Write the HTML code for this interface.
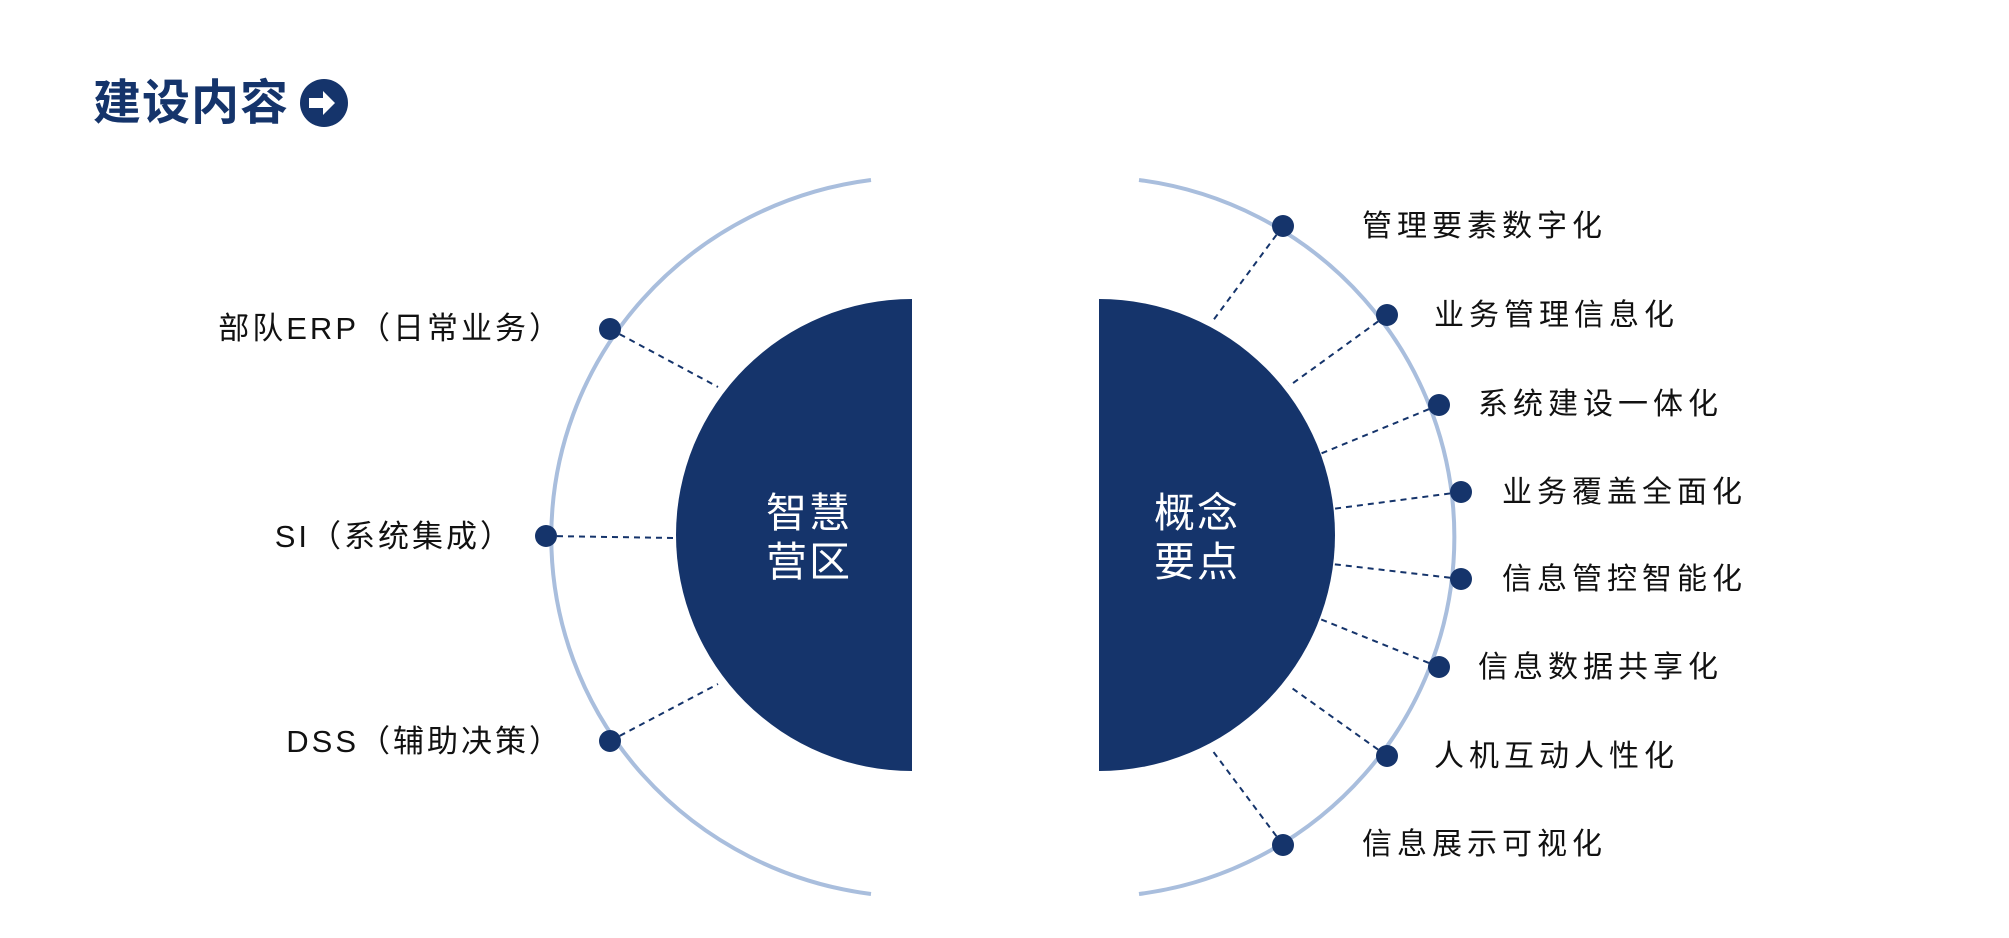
<!DOCTYPE html>
<html><head><meta charset="utf-8"><style>
html,body{margin:0;padding:0;background:#fff;}
svg{display:block;}
text{font-family:"Liberation Sans","Noto Sans CJK SC",sans-serif;}
</style></head><body>
<svg width="2009" height="938" viewBox="0 0 2009 938" xmlns="http://www.w3.org/2000/svg">
<text x="93" y="119" font-size="48" font-weight="bold" fill="#15346b" letter-spacing="1">建设内容</text>
<circle cx="324" cy="103" r="24" fill="#15346b"/>
<path d="M309 98 h14 v-7 l12 12 l-12 12 v-7 h-14 z" fill="#fff"/>

<!-- left -->
<path d="M871 180 A367 360 0 0 0 871 894" fill="none" stroke="#a9bedd" stroke-width="4"/>
<path d="M912 299 A236 236 0 0 0 912 771 Z" fill="#15346b"/>
<g stroke="#15346b" stroke-width="2" stroke-dasharray="6,5">
<line x1="610" y1="329" x2="718" y2="387"/>
<line x1="546" y1="536" x2="676" y2="538"/>
<line x1="610" y1="741" x2="718" y2="684"/>
</g>
<g fill="#15346b">
<circle cx="610" cy="329" r="11"/><circle cx="546" cy="536" r="11"/><circle cx="610" cy="741" r="11"/>
</g>
<g font-size="31" fill="#111" text-anchor="end" letter-spacing="3">
<text x="563" y="339">部队ERP（日常业务）</text>
<text x="514" y="547">SI（系统集成）</text>
<text x="563" y="752">DSS（辅助决策）</text>
</g>
<g font-size="41" fill="#fff" letter-spacing="2">
<text x="766" y="527">智慧</text>
<text x="766" y="576">营区</text>
</g>

<!-- right -->
<path d="M1139 180 A362 360 0 0 1 1139 894" fill="none" stroke="#a9bedd" stroke-width="4"/>
<path d="M1099 299 A236 236 0 0 1 1099 771 Z" fill="#15346b"/>
<g stroke="#15346b" stroke-width="2" stroke-dasharray="6,5">
<line x1="1283" y1="226" x2="1212" y2="322"/>
<line x1="1387" y1="315" x2="1289" y2="386"/>
<line x1="1439" y1="405" x2="1320" y2="454"/>
<line x1="1461" y1="492" x2="1332" y2="509"/>
<line x1="1461" y1="579" x2="1332" y2="564"/>
<line x1="1439" y1="667" x2="1320" y2="619"/>
<line x1="1387" y1="756" x2="1289" y2="686"/>
<line x1="1283" y1="845" x2="1212" y2="750"/>
</g>
<g fill="#15346b">
<circle cx="1283" cy="226" r="11"/><circle cx="1387" cy="315" r="11"/><circle cx="1439" cy="405" r="11"/><circle cx="1461" cy="492" r="11"/>
<circle cx="1461" cy="579" r="11"/><circle cx="1439" cy="667" r="11"/><circle cx="1387" cy="756" r="11"/><circle cx="1283" cy="845" r="11"/>
</g>
<g font-size="30" fill="#111" letter-spacing="5">
<text x="1362" y="236">管理要素数字化</text>
<text x="1434" y="325">业务管理信息化</text>
<text x="1478" y="414">系统建设一体化</text>
<text x="1502" y="502">业务覆盖全面化</text>
<text x="1502" y="589">信息管控智能化</text>
<text x="1478" y="677">信息数据共享化</text>
<text x="1434" y="766">人机互动人性化</text>
<text x="1362" y="854">信息展示可视化</text>
</g>
<g font-size="41" fill="#fff" letter-spacing="2">
<text x="1154" y="527">概念</text>
<text x="1154" y="576">要点</text>
</g>
</svg>
</body></html>
